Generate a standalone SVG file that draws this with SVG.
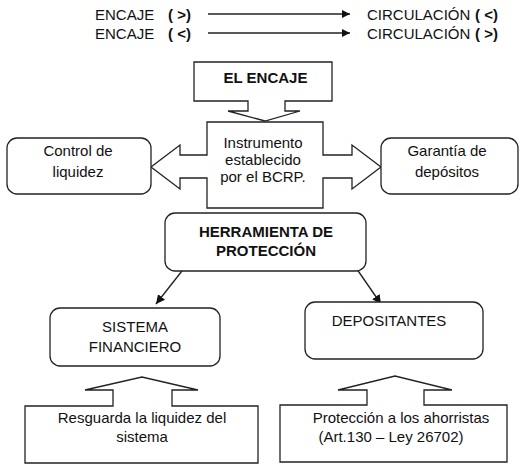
<svg xmlns="http://www.w3.org/2000/svg" width="530" height="468" viewBox="0 0 530 468">
<style>
text{font-family:"Liberation Sans",Arial,sans-serif;font-size:15px;fill:#111;text-anchor:middle}
.b{font-weight:bold}
.l{text-anchor:start}
.s{fill:#fff;stroke:#222;stroke-width:1.3;stroke-linejoin:miter}
.c{fill:none;stroke:#222;stroke-width:1.4}
</style>
<defs>
<marker id="ah" viewBox="0 0 10 10" refX="10" refY="5" markerWidth="8" markerHeight="8" markerUnits="userSpaceOnUse" orient="auto">
<path d="M0,0 L10,5 L0,10 Z" fill="#111"/>
</marker>
<marker id="ah2" viewBox="0 0 10 10" refX="10" refY="5" markerWidth="9" markerHeight="9" markerUnits="userSpaceOnUse" orient="auto">
<path d="M0,0 L10,5 L0,10 Z" fill="#111"/>
</marker>
</defs>
<rect width="530" height="468" fill="#fff"/>
<g id="legend">
<text class="l" x="95" y="20">ENCAJE</text>
<text class="l b" x="168" y="20">( &gt;)</text>
<text class="l" x="367" y="20">CIRCULACIÓN</text>
<text class="l b" x="475" y="20">( &lt;)</text>
<text class="l" x="95" y="39">ENCAJE</text>
<text class="l b" x="168" y="39">( &lt;)</text>
<text class="l" x="367" y="39">CIRCULACIÓN</text>
<text class="l b" x="475" y="39">( &gt;)</text>
</g>
<g id="connectors">
<line class="c" x1="208" y1="14" x2="350" y2="14" marker-end="url(#ah)"/>
<line class="c" x1="208" y1="33" x2="350" y2="33" marker-end="url(#ah)"/>
<line class="c" x1="200" y1="248" x2="156" y2="304" marker-end="url(#ah2)"/>
<line class="c" x1="343" y1="249" x2="381" y2="304" marker-end="url(#ah2)"/>
</g>
<g id="el-encaje">
<path class="s" d="M194,62 H332 V101 H285 V111 H300 L265,121 L228,111 H248 V101 H194 Z"/>
<text class="b" x="265.5" y="83" font-size="16">EL ENCAJE</text>
</g>
<g id="instrumento">
<path class="s" d="M207,122 H323 V155 H352 V145 L381,167 L352,189 V178 H323 V208 H207 V178 H180 V189 L151,167 L180,145 V155 H207 Z"/>
<text x="263" y="148">Instrumento</text>
<text x="263" y="165">establecido</text>
<text x="263" y="182">por el BCRP.</text>
</g>
<g id="control">
<rect class="s" x="7" y="138" width="144" height="56" rx="10"/>
<text x="78" y="156">Control de</text>
<text x="78" y="177">liquidez</text>
</g>
<g id="garantia">
<rect class="s" x="381" y="138" width="137" height="56" rx="10"/>
<text x="447" y="156">Garantía de</text>
<text x="447" y="177">depósitos</text>
</g>
<g id="herramienta">
<rect class="s" x="165" y="213" width="201" height="58" rx="10"/>
<text class="b" x="266" y="237" font-size="16.8">HERRAMIENTA DE</text>
<text class="b" x="266" y="256" font-size="16.8">PROTECCIÓN</text>
</g>
<g id="sistema">
<rect class="s" x="50" y="308" width="170" height="58" rx="10"/>
<text x="135" y="332">SISTEMA</text>
<text x="135" y="352">FINANCIERO</text>
</g>
<g id="depositantes">
<rect class="s" x="305" y="302" width="178" height="57" rx="10"/>
<text x="389" y="326">DEPOSITANTES</text>
</g>
<g id="resguarda">
<path class="s" d="M25,406 H113 V390 H85 L142,377 L198,390 H172 V406 H258 V463 H25 Z"/>
<text x="142" y="423" font-size="16">Resguarda la liquidez del</text>
<text x="142" y="442" font-size="16">sistema</text>
</g>
<g id="proteccion">
<path class="s" d="M280,405 H367 V390 H338 L395,376 L452,390 H424 V405 H507 V462 H280 Z"/>
<text x="401" y="423" font-size="16.5">Protección a los ahorristas</text>
<text x="391" y="442" font-size="15.5">(Art.130 – Ley 26702)</text>
</g>
</svg>
